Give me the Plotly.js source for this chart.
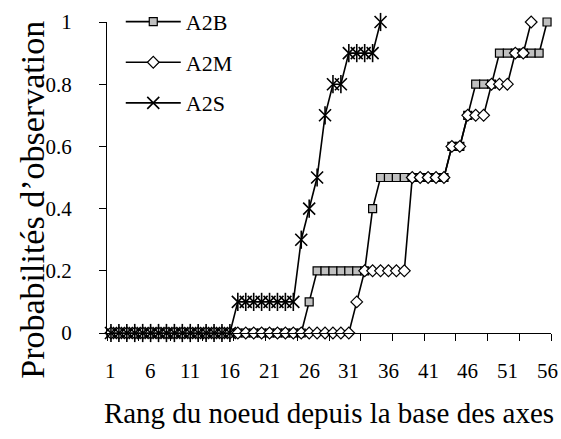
<!DOCTYPE html>
<html>
<head>
<meta charset="utf-8">
<script src="https://cdn.plot.ly/plotly-3.0.1.min.js"></script>
<style>html,body{margin:0;padding:0;background:#fff;}#chart{width:561px;height:439px;}</style>
</head>
<body>
<div id="chart"></div>
<script>
const rang = [1,2,3,4,5,6,7,8,9,10,11,12,13,14,15,16,17,18,19,20,21,22,23,24,25,26,27,28,29,30,31,32,33,34,35,36,37,38,39,40,41,42,43,44,45,46,47,48,49,50,51,52,53,54,55,56];
const tickLabels = ["1","6","11","16","21","26","31","36","41","46","51","56"];
const tickPositions = [1,6,11,16,21,26,31,36,41,46,51,56];
const tickMarkPositions = [0.5,4.5,8.5,12.5,16.5,20.5,24.5,28.5,32.5,36.5,40.5,44.5,48.5,52.5,56.5];
const yTickVals = [0, 0.2, 0.4, 0.6, 0.8, 1];
const yTickText = ['0', '0.2', '0.4', '0.6', '0.8', '1'];
const A2B = [0,0,0,0,0,0,0,0,0,0,0,0,0,0,0,0,0,0,0,0,0,0,0,0,0,
             0.1,
             0.2,0.2,0.2,0.2,0.2,0.2,0.2,
             0.4,
             0.5,0.5,0.5,0.5,0.5,0.5,0.5,0.5,0.5,
             0.6,0.6,
             0.7,
             0.8,0.8,0.8,
             0.9,0.9,0.9,0.9,0.9,0.9,
             1];
const A2M = [0,0,0,0,0,0,0,0,0,0,0,0,0,0,0,0,0,0,0,0,0,0,0,0,0,0,0,0,0,0,0,
             0.1,
             0.2,0.2,0.2,0.2,0.2,0.2,
             0.5,0.5,0.5,0.5,0.5,
             0.6,0.6,
             0.7,0.7,0.7,
             0.8,0.8,0.8,
             0.9,0.9,
             1];
const A2S = [0,0,0,0,0,0,0,0,0,0,0,0,0,0,0,0,
             0.1,0.1,0.1,0.1,0.1,0.1,0.1,0.1,
             0.3,0.4,0.5,0.7,
             0.8,0.8,
             0.9,0.9,0.9,0.9,
             1];

const FONT = 'Liberation Serif';

const traces = [
  {x: rang.slice(0, A2B.length), y: A2B, name: 'A2B', type: 'scatter', mode: 'lines+markers',
   line: {color: '#000', width: 1.6}, cliponaxis: false, legendgroup: 'b',
   marker: {symbol: 'square', size: 8, color: '#c0c0c0', line: {color: '#000', width: 1.2}}},
  {x: rang.slice(0, A2M.length), y: A2M, name: 'A2M', type: 'scatter', mode: 'lines+markers',
   line: {color: '#000', width: 1.6}, cliponaxis: false, legendgroup: 'm',
   marker: {symbol: 'diamond', size: 9, color: '#fff', line: {color: '#000', width: 1.2}}},
  {x: rang.slice(0, A2S.length), y: A2S, name: 'A2S', type: 'scatter', mode: 'lines+markers',
   line: {color: '#000', width: 1.6}, cliponaxis: false, legendgroup: 's',
   marker: {symbol: 'x-thin-open', size: 12, color: '#000', line: {color: '#000', width: 1.6}}},
  {x: rang.slice(0, A2S.length), y: A2S, name: 'A2S', type: 'scatter', mode: 'markers',
   showlegend: false, cliponaxis: false, legendgroup: 's', hoverinfo: 'skip',
   marker: {symbol: 'line-ns-open', size: 13, color: '#000', line: {color: '#000', width: 1.6}}}
];

const annotations = tickPositions.map((p, i) => ({
  x: p, xref: 'x', y: 0, yref: 'y', yanchor: 'middle', xanchor: 'center', yshift: -38,
  text: tickLabels[i], showarrow: false, font: {family: FONT, size: 21, color: '#000'}
}));
annotations.push({
  x: -0.167, xref: 'paper', y: 0.428, yref: 'paper', xanchor: 'center', yanchor: 'middle',
  textangle: -90, text: 'Probabilités d’observation', showarrow: false,
  font: {family: FONT, size: 34, color: '#000'}
});

const layout = {
  width: 561, height: 439,
  margin: {l: 107, r: 10, t: 22, b: 106, autoexpand: false},
  paper_bgcolor: '#fff', plot_bgcolor: '#fff',
  font: {family: FONT, color: '#000', size: 21},
  showlegend: true,
  legend: {x: 0.031, y: 1.068, xanchor: 'left', yanchor: 'top', bgcolor: 'rgba(0,0,0,0)',
           font: {family: FONT, size: 22, color: '#000'}, traceorder: 'grouped', tracegroupgap: 9,
           itemwidth: 55},
  annotations: annotations,
  xaxis: {
    range: [0.5, 56.5], showgrid: false, zeroline: false,
    showline: true, linecolor: '#000', linewidth: 1,
    tickmode: 'array', tickvals: tickMarkPositions, showticklabels: false,
    ticks: 'outside', ticklen: 7, tickcolor: '#000', tickwidth: 1,
    title: {text: 'Rang du noeud depuis la base des axes', font: {family: FONT, size: 29, color: '#000'}, standoff: 62}
  },
  yaxis: {
    range: [0, 1], showgrid: false, zeroline: false,
    showline: true, linecolor: '#000', linewidth: 1,
    tickmode: 'array', tickvals: yTickVals, ticktext: yTickText,
    ticks: 'outside', ticklen: 7, tickcolor: '#000', ticklabelstandoff: 23,
    tickfont: {family: FONT, size: 21, color: '#000'}
  }
};

Plotly.newPlot('chart', traces, layout, {displayModeBar: false, staticPlot: true});
</script>
</body>
</html>
